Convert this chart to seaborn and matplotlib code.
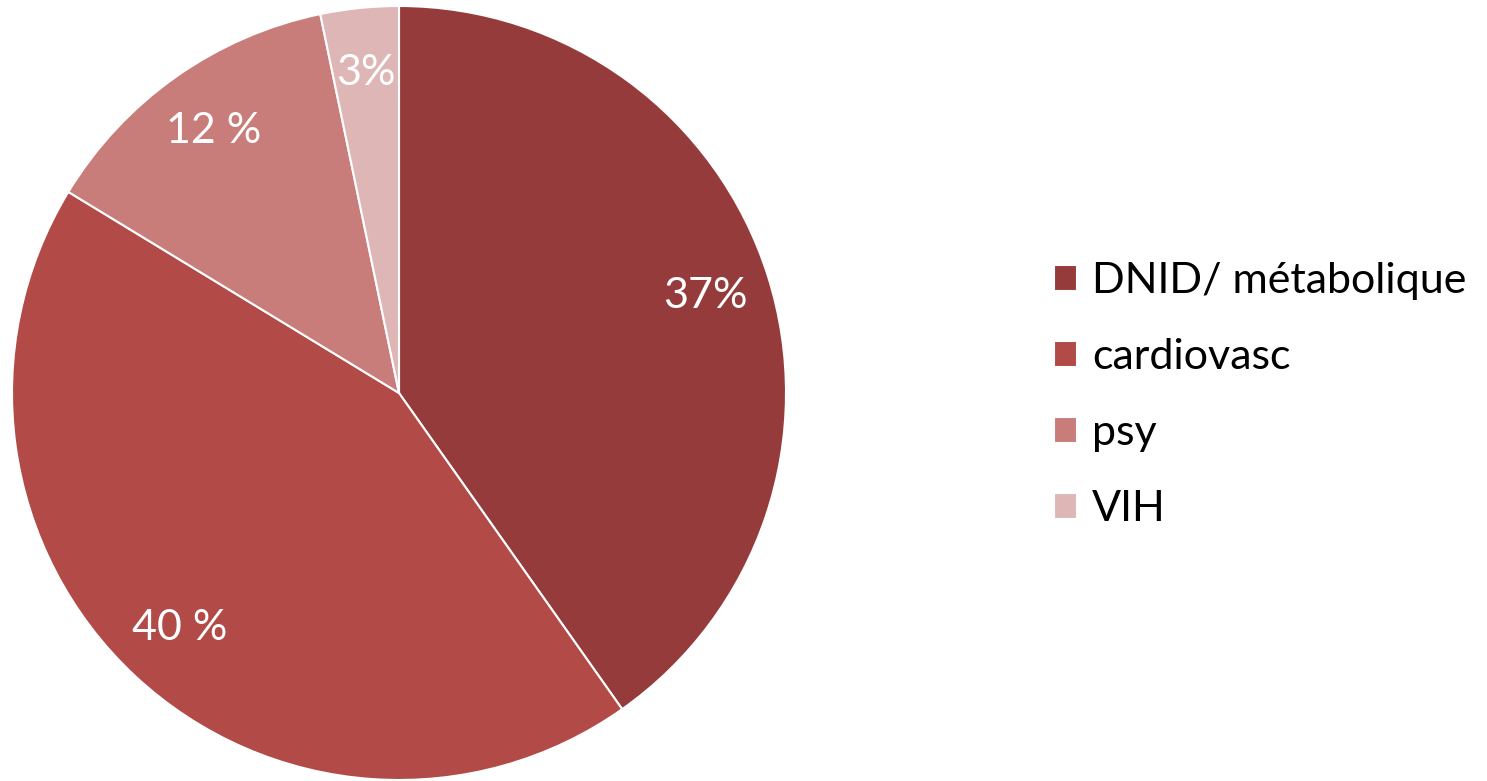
import matplotlib
matplotlib.use("Agg")
import matplotlib.pyplot as plt
import seaborn as sns

# données
categories = ["DNID/ métabolique", "cardiovasc", "psy", "VIH"]
values = [37, 40, 12, 3]
pct_labels = ["37%", "40 %", "12 %", "3%"]
colors = ["#963B3B", "#B24A48", "#C97D7B", "#DFB6B6"]

sns.set_theme(style="white")
plt.rcParams['font.family'] = ['Lato', 'DejaVu Sans']

fig = plt.figure(figsize=(14.87, 7.81), dpi=100)
W, H = 1487, 781
cx, cy, r = 399, 393, 387
ax = fig.add_axes([(cx - r) / W, (H - cy - r) / H, 2 * r / W, 2 * r / H])

lab_iter = iter(pct_labels)
wedges, texts, autotexts = ax.pie(
    values, colors=colors, startangle=90, counterclock=False,
    autopct=lambda p: next(lab_iter), pctdistance=0.83,
    wedgeprops=dict(edgecolor="white", linewidth=1.5),
    textprops=dict(color="white", fontsize=31),
)
ax.set_xlim(-1, 1)
ax.set_ylim(-1, 1)
ax.set_aspect("equal")

leg = fig.legend(wedges, categories, loc="center left",
                 bbox_to_anchor=(1032 / W, 1 - 395 / H), frameon=False,
                 fontsize=31, handlelength=0.55, handleheight=0.55,
                 handletextpad=0.35, labelspacing=0.88, borderpad=0)
for t in leg.get_texts():
    t.set_color("black")

fig.savefig("out.png", dpi=100)
